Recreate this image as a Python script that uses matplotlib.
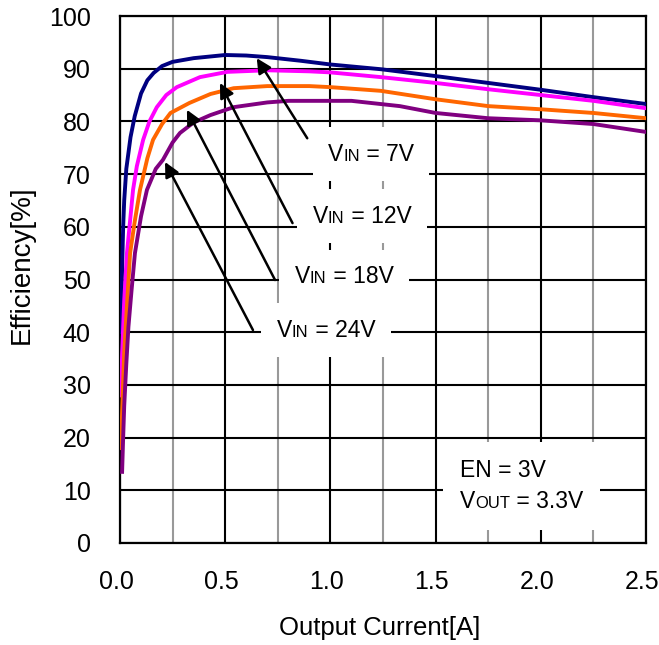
import numpy as np
import matplotlib
matplotlib.use('Agg')
import matplotlib.pyplot as plt
from matplotlib.offsetbox import TextArea, HPacker, VPacker, AnnotationBbox
from matplotlib.transforms import ScaledTranslation

plt.rcParams['font.family'] = ['Liberation Sans', 'DejaVu Sans']

# 数据
x_7v = [0.005, 0.01, 0.015, 0.02, 0.03, 0.05, 0.07, 0.1, 0.13, 0.16, 0.2, 0.25, 0.35, 0.5, 0.6, 0.7, 0.86, 1.0, 1.24, 1.5, 1.75, 2.0, 2.25, 2.5]
eff_7v = [40, 52, 60, 65, 71, 77, 81, 85.3, 87.8, 89.2, 90.5, 91.3, 92.0, 92.6, 92.5, 92.2, 91.5, 90.8, 89.9, 88.6, 87.3, 86.0, 84.6, 83.3]

x_12v = [0.005, 0.01, 0.02, 0.033, 0.05, 0.062, 0.08, 0.11, 0.14, 0.175, 0.22, 0.27, 0.38, 0.51, 0.7, 0.9, 1.0, 1.24, 1.5, 1.75, 2.0, 2.25, 2.5]
eff_12v = [28, 36, 46, 55, 62, 67, 71.5, 76.5, 80, 82.7, 85, 86.5, 88.4, 89.4, 89.7, 89.5, 89.3, 88.4, 87.3, 86.1, 85.0, 83.9, 82.5]

x_18v = [0.005, 0.01, 0.02, 0.03, 0.048, 0.07, 0.095, 0.13, 0.157, 0.2, 0.24, 0.33, 0.43, 0.54, 0.7, 0.9, 1.0, 1.24, 1.5, 1.75, 2.0, 2.25, 2.5]
eff_18v = [18, 25, 36, 43, 55, 61, 67, 73, 76.5, 79.5, 81.6, 83.5, 85.2, 86.3, 86.7, 86.7, 86.5, 85.8, 84.2, 82.9, 82.3, 81.6, 80.6]

x_24v = [0.01, 0.015, 0.02, 0.03, 0.04, 0.055, 0.071, 0.1, 0.128, 0.17, 0.204, 0.25, 0.285, 0.35, 0.43, 0.54, 0.7, 0.8, 1.1, 1.33, 1.5, 1.75, 2.0, 2.25, 2.5]
eff_24v = [13.5, 20, 26, 34, 41, 48, 55, 62, 67, 71, 72.7, 76, 77.8, 79.8, 81.2, 82.7, 83.6, 83.9, 83.9, 82.9, 81.6, 80.6, 80.2, 79.5, 78.0]

colors = ['#000080', '#FF00FF', '#FF6600', '#800080']
vin_labels = ['7V', '12V', '18V', '24V']
# 标签中心位置 和 箭头 (尾 -> 头)
label_pos = [(1.193, 73.8), (1.150, 62.0), (1.065, 50.5), (0.979, 40.4)]
arrow_tail = [(0.89, 76.8), (0.82, 60.7), (0.737, 49.9), (0.632, 40.4)]
arrow_tip = [(0.65, 92.0), (0.475, 87.3), (0.318, 82.2), (0.214, 72.3)]

fig = plt.figure(figsize=(6.59, 6.45), dpi=100)
ax = fig.add_axes([120 / 659, 1 - 543 / 645, 526 / 659, 527 / 645])

series = [(x_7v, eff_7v), (x_12v, eff_12v), (x_18v, eff_18v), (x_24v, eff_24v)]
for (xs, ys), c in zip(series, colors):
    ax.plot(xs, ys, color=c, lw=2.8, zorder=3)

ax.set_xlim(0, 2.5)
ax.set_ylim(0, 100)
ax.set_xticks(np.arange(0, 2.51, 0.5))
ax.set_xticks(np.arange(0.25, 2.5, 0.5), minor=True)
ax.set_yticks(np.arange(0, 101, 10))
ax.set_xticklabels(['0.0', '0.5', '1.0', '1.5', '2.0', '2.5'])
ax.tick_params(axis='both', which='both', length=0, labelsize=18)
ax.tick_params(axis='x', pad=19.5)
ax.tick_params(axis='y', pad=21)
for lbl in ax.get_xticklabels():
    lbl.set_transform(lbl.get_transform() + ScaledTranslation(-4 / 100, 0, fig.dpi_scale_trans))
ax.grid(True, which='major', color='black', lw=1.5, zorder=1)
ax.grid(True, which='minor', axis='x', color='#999999', lw=1.5, zorder=1)
ax.set_axisbelow(True)
for s in ax.spines.values():
    s.set_linewidth(1.6)

fig.text(380 / 659, 1 - 628 / 645, 'Output Current[A]', ha='center', va='center', fontsize=18.5)
fig.text(22 / 659, 1 - 265 / 645, 'Efficiency[%]', ha='center', va='center', fontsize=20, rotation=90)


def vlabel(small, rest, size=16.5, small_size=12):
    return HPacker(children=[TextArea('V', textprops=dict(fontsize=size)),
                             TextArea(small, textprops=dict(fontsize=small_size)),
                             TextArea(rest, textprops=dict(fontsize=size))],
                   align='baseline', pad=0, sep=0)


for lab, pos, tail, tip in zip(vin_labels, label_pos, arrow_tail, arrow_tip):
    ax.annotate('', xy=tip, xytext=tail,
                arrowprops=dict(arrowstyle='-|>', color='black', lw=1.8,
                                mutation_scale=22, shrinkA=0, shrinkB=0),
                zorder=4)
    box = HPacker(children=[vlabel('IN', ' = ' + lab)], pad=11, sep=0)
    ab = AnnotationBbox(box, pos, xycoords='data', frameon=True, pad=0,
                        bboxprops=dict(facecolor='white', edgecolor='none', boxstyle='square,pad=0'),
                        zorder=5)
    ax.add_artist(ab)

en_box = VPacker(children=[TextArea('EN = 3V', textprops=dict(fontsize=16.5)),
                           vlabel('OUT', ' = 3.3V')],
                 align='left', pad=12, sep=6)
ab = AnnotationBbox(en_box, (1.91, 10.8), xycoords='data', frameon=True, pad=0,
                    bboxprops=dict(facecolor='white', edgecolor='none', boxstyle='square,pad=0'),
                    zorder=5)
ax.add_artist(ab)

plt.savefig('out.png', dpi=100)
